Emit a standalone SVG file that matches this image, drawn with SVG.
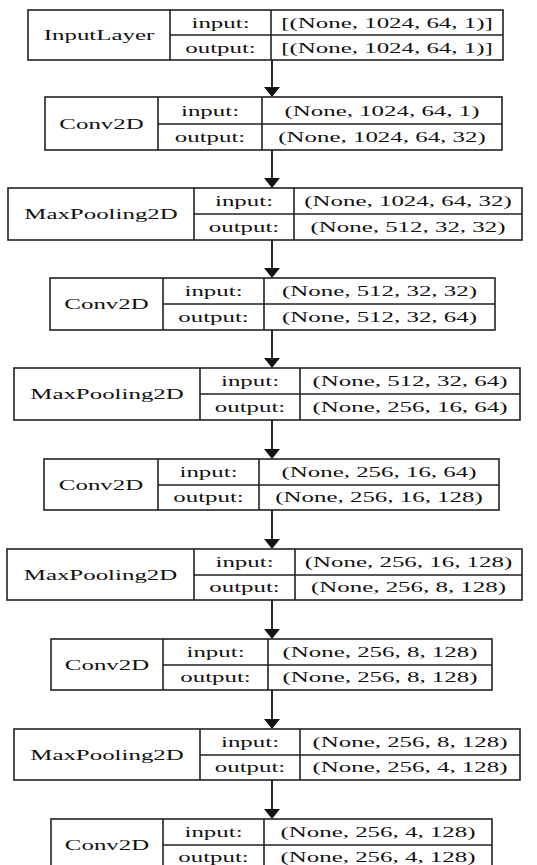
<svg xmlns="http://www.w3.org/2000/svg" width="537" height="865" viewBox="0 0 537 865">
<defs>
<style>
.b{fill:#fff;stroke:#222;stroke-width:1.6}
.l{stroke:#222;stroke-width:1.6;fill:none}
.t{font-family:"Liberation Serif","Times New Roman",serif;font-size:15px;text-anchor:middle;fill:#111}
.e{stroke:#111;stroke-width:1.8;fill:none}
.h{fill:#111}
</style>
</defs>
<rect width="537" height="865" fill="#fff"/>
<g id="connectors">
<line class="e" x1="272" y1="60" x2="272" y2="87"/><polygon class="h" points="264,87 280,87 272,97"/>
<line class="e" x1="272" y1="150" x2="272" y2="178"/><polygon class="h" points="264,178 280,178 272,188"/>
<line class="e" x1="272" y1="240" x2="272" y2="268"/><polygon class="h" points="264,268 280,268 272,278"/>
<line class="e" x1="272" y1="330" x2="272" y2="358"/><polygon class="h" points="264,358 280,358 272,368"/>
<line class="e" x1="272" y1="420" x2="272" y2="449"/><polygon class="h" points="264,449 280,449 272,459"/>
<line class="e" x1="272" y1="510" x2="272" y2="539"/><polygon class="h" points="264,539 280,539 272,549"/>
<line class="e" x1="272" y1="600" x2="272" y2="629"/><polygon class="h" points="264,629 280,629 272,639"/>
<line class="e" x1="272" y1="690" x2="272" y2="719"/><polygon class="h" points="264,719 280,719 272,729"/>
<line class="e" x1="272" y1="780" x2="272" y2="809"/><polygon class="h" points="264,809 280,809 272,819"/>
</g>
<g id="input_layer">
<rect class="b" x="28" y="10" width="475" height="50"/>
<path class="l" d="M170,10V60M271,10V60M170,35H503"/>
<text class="t" transform="translate(99,40) scale(1.66,1)">InputLayer</text>
<text class="t" transform="translate(220.5,27.5) scale(1.66,1)">input:</text>
<text class="t" transform="translate(220.5,52.5) scale(1.66,1)">output:</text>
<text class="t" transform="translate(387,27.5) scale(1.66,1)">[(None, 1024, 64, 1)]</text>
<text class="t" transform="translate(387,52.5) scale(1.66,1)">[(None, 1024, 64, 1)]</text>
</g>
<g id="conv2d_1">
<rect class="b" x="45" y="97" width="457" height="53"/>
<path class="l" d="M158,97V150M262,97V150M158,124H502"/>
<text class="t" transform="translate(101.5,128.5) scale(1.66,1)">Conv2D</text>
<text class="t" transform="translate(210,115.5) scale(1.66,1)">input:</text>
<text class="t" transform="translate(210,142) scale(1.66,1)">output:</text>
<text class="t" transform="translate(382,115.5) scale(1.66,1)">(None, 1024, 64, 1)</text>
<text class="t" transform="translate(382,142) scale(1.66,1)">(None, 1024, 64, 32)</text>
</g>
<g id="maxpool_1">
<rect class="b" x="8" y="188" width="514" height="52"/>
<path class="l" d="M194,188V240M294,188V240M194,214H522"/>
<text class="t" transform="translate(101,219) scale(1.66,1)">MaxPooling2D</text>
<text class="t" transform="translate(244,206) scale(1.66,1)">input:</text>
<text class="t" transform="translate(244,232) scale(1.66,1)">output:</text>
<text class="t" transform="translate(408,206) scale(1.66,1)">(None, 1024, 64, 32)</text>
<text class="t" transform="translate(408,232) scale(1.66,1)">(None, 512, 32, 32)</text>
</g>
<g id="conv2d_2">
<rect class="b" x="50" y="278" width="445" height="52"/>
<path class="l" d="M163,278V330M264,278V330M163,304H495"/>
<text class="t" transform="translate(106.5,309) scale(1.66,1)">Conv2D</text>
<text class="t" transform="translate(213.5,296) scale(1.66,1)">input:</text>
<text class="t" transform="translate(213.5,322) scale(1.66,1)">output:</text>
<text class="t" transform="translate(379.5,296) scale(1.66,1)">(None, 512, 32, 32)</text>
<text class="t" transform="translate(379.5,322) scale(1.66,1)">(None, 512, 32, 64)</text>
</g>
<g id="maxpool_2">
<rect class="b" x="14" y="368" width="506" height="52"/>
<path class="l" d="M200,368V420M300,368V420M200,394H520"/>
<text class="t" transform="translate(107,399) scale(1.66,1)">MaxPooling2D</text>
<text class="t" transform="translate(250,386) scale(1.66,1)">input:</text>
<text class="t" transform="translate(250,412) scale(1.66,1)">output:</text>
<text class="t" transform="translate(410,386) scale(1.66,1)">(None, 512, 32, 64)</text>
<text class="t" transform="translate(410,412) scale(1.66,1)">(None, 256, 16, 64)</text>
</g>
<g id="conv2d_3">
<rect class="b" x="44" y="459" width="455" height="51"/>
<path class="l" d="M158,459V510M259,459V510M158,485H499"/>
<text class="t" transform="translate(101,489.5) scale(1.66,1)">Conv2D</text>
<text class="t" transform="translate(208.5,477) scale(1.66,1)">input:</text>
<text class="t" transform="translate(208.5,502) scale(1.66,1)">output:</text>
<text class="t" transform="translate(379,477) scale(1.66,1)">(None, 256, 16, 64)</text>
<text class="t" transform="translate(379,502) scale(1.66,1)">(None, 256, 16, 128)</text>
</g>
<g id="maxpool_3">
<rect class="b" x="7" y="549" width="515" height="51"/>
<path class="l" d="M194,549V600M295,549V600M194,575H522"/>
<text class="t" transform="translate(100.5,579.5) scale(1.66,1)">MaxPooling2D</text>
<text class="t" transform="translate(244.5,567) scale(1.66,1)">input:</text>
<text class="t" transform="translate(244.5,592) scale(1.66,1)">output:</text>
<text class="t" transform="translate(408.5,567) scale(1.66,1)">(None, 256, 16, 128)</text>
<text class="t" transform="translate(408.5,592) scale(1.66,1)">(None, 256, 8, 128)</text>
</g>
<g id="conv2d_4">
<rect class="b" x="51" y="639" width="441" height="51"/>
<path class="l" d="M163,639V690M268,639V690M163,665H492"/>
<text class="t" transform="translate(107,669.5) scale(1.66,1)">Conv2D</text>
<text class="t" transform="translate(215.5,657) scale(1.66,1)">input:</text>
<text class="t" transform="translate(215.5,682) scale(1.66,1)">output:</text>
<text class="t" transform="translate(380,657) scale(1.66,1)">(None, 256, 8, 128)</text>
<text class="t" transform="translate(380,682) scale(1.66,1)">(None, 256, 8, 128)</text>
</g>
<g id="maxpool_4">
<rect class="b" x="14" y="729" width="506" height="51"/>
<path class="l" d="M200,729V780M300,729V780M200,755H520"/>
<text class="t" transform="translate(107,759.5) scale(1.66,1)">MaxPooling2D</text>
<text class="t" transform="translate(250,747) scale(1.66,1)">input:</text>
<text class="t" transform="translate(250,772) scale(1.66,1)">output:</text>
<text class="t" transform="translate(410,747) scale(1.66,1)">(None, 256, 8, 128)</text>
<text class="t" transform="translate(410,772) scale(1.66,1)">(None, 256, 4, 128)</text>
</g>
<g id="conv2d_5">
<rect class="b" x="51" y="819" width="441" height="51"/>
<path class="l" d="M163,819V870M264,819V870M163,845H492"/>
<text class="t" transform="translate(107,849.5) scale(1.66,1)">Conv2D</text>
<text class="t" transform="translate(213.5,837) scale(1.66,1)">input:</text>
<text class="t" transform="translate(213.5,862) scale(1.66,1)">output:</text>
<text class="t" transform="translate(378,837) scale(1.66,1)">(None, 256, 4, 128)</text>
<text class="t" transform="translate(378,862) scale(1.66,1)">(None, 256, 4, 128)</text>
</g>
</svg>
